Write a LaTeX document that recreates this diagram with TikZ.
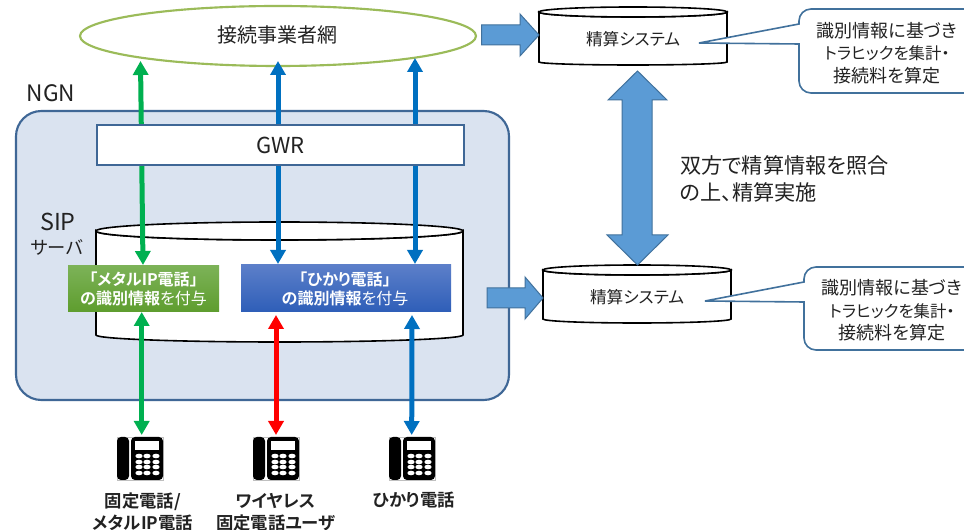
\documentclass[tikz,border=0pt]{standalone}
\usepackage{fontspec}
\setmainfont{Noto Sans CJK JP}[RawFeature=+palt,BoldFont={Noto Sans CJK JP Bold}]
\usetikzlibrary{arrows.meta,calc,shapes.geometric}
\definecolor{ngnfill}{HTML}{DAE3F0}
\definecolor{ngnline}{HTML}{3F6796}
\definecolor{blockfill}{HTML}{5B9BD5}
\definecolor{blockline}{HTML}{41719C}
\definecolor{greenarrow}{HTML}{00B050}
\definecolor{bluearrow}{HTML}{0070C0}
\definecolor{redarrow}{HTML}{FF0000}
\definecolor{ellline}{HTML}{9BBB59}
\definecolor{txt}{HTML}{222222}
\definecolor{calloutline}{HTML}{41719C}
\definecolor{metatop}{HTML}{7CB257}
\definecolor{metabot}{HTML}{5E9D2E}
\definecolor{hikatop}{HTML}{5C7FC9}
\definecolor{hikabot}{HTML}{2E5EB8}
\tikzset{
  x=0.75pt,y=-0.75pt,
  every node/.style={text=txt,inner sep=0pt,outer sep=0pt,align=center},
  biglabel/.style={font=\fontsize{15pt}{18pt}\selectfont},
  boxlabel/.style={font=\fontsize{12pt}{14.2pt}\selectfont,text=white},
  phonelabel/.style={font=\fontsize{13pt}{16.5pt}\selectfont\bfseries},
  notelabel/.style={font=\fontsize{13.5pt}{16.6pt}\selectfont},
  notemid/.style={font=\fontsize{12.3pt}{16.6pt}\selectfont},
  syslabel/.style={font=\fontsize{12.5pt}{14pt}\selectfont},
  link/.style={line width=3.75pt,{Triangle[width=11.25pt,length=10.5pt]}-{Triangle[width=11.25pt,length=10.5pt]}},
  blockarrow/.style={fill=blockfill,draw=blockline,line width=0.75pt,line join=miter},
  cylline/.style={draw=black,line width=1.2pt,fill=white},
  calloutbox/.style={draw=calloutline,fill=white,line width=1.2pt},
}
% name, x1, x2, top edge, rim centre, side end, lowest point
\newcommand\cylshape[7]{%
  \pgfmathsetmacro\cx{(#2+#3)/2}\pgfmathsetmacro\rx{(#3-#2)/2}%
  \pgfmathsetmacro\rt{#5-#4}\pgfmathsetmacro\rb{#7-#6}%
  \draw[cylline] (#2,#5) -- (#2,#6) arc[start angle=180,end angle=0,x radius=\rx,y radius=\rb] -- (#3,#5)
     arc[start angle=0,end angle=180,x radius=\rx,y radius=\rt] -- cycle;
  \draw[cylline] (\cx,#5) ellipse[x radius=\rx,y radius=\rt];
  \coordinate (#1) at (\cx,#5);
}
% name, left x
\newcommand\phoneicon[2]{%
  \node[draw=black!25,line width=0.4pt,fill=white,minimum width=34.5pt,minimum height=32.25pt] (#1) at (#2+23,458.5) {};
  \begin{scope}[shift={(#2,0)}]
    \fill[black,rounded corners=3pt] (0,437) rectangle (12,480);
    \fill[black,rounded corners=3pt] (14,437) rectangle (46,480);
    \fill[white] (18,441) rectangle (42,450);
    \foreach \kx in {22,30,39}{\foreach \ky in {456,462,467,473}{
      \fill[white] (\kx,\ky) ellipse[x radius=3.6,y radius=2.3];}}
  \end{scope}
}
\begin{document}
\begin{tikzpicture}
\useasboundingbox (0,0) rectangle (964,530);
\clip (0,0) rectangle (964,530);
\fill[white] (0,0) rectangle (964,530);

% NGN domain
\node[draw=ngnline,fill=ngnfill,line width=1.6pt,rounded corners=19pt,minimum width=369.75pt,minimum height=216.75pt] (ngn) at (262.5,255.5) {};
\node[font=\fontsize{17pt}{18pt}\selectfont] (ngnlabel) at (51,93) {NGN};

% carrier network
\node[draw=ellline,fill=white,line width=1.6pt,ellipse,minimum width=297pt,minimum height=45pt] (net) at (278,36) {};
\node[biglabel] (nettext) at (277,35) {接続事業者網};

% SIP server
\cylshape{sip}{96}{463}{222}{231}{335}{342}
\node[font=\fontsize{17.5pt}{18pt}\selectfont] (siplabel) at (58,222) {SIP};
\node[font=\fontsize{13.7pt}{18pt}\selectfont] (sipsub) at (57,247) {サーバ};

% identification boxes
\node[minimum width=113.25pt,minimum height=34.5pt,top color=metatop,bottom color=metabot] (meta) at (143.5,289) {};
\node[boxlabel] (metatext) at (143.5,288.5) {\textbf{「メタルIP電話」}\\\textbf{の識別情報}を付与};
\node[minimum width=157.5pt,minimum height=35.25pt,top color=hikatop,bottom color=hikabot] (hika) at (346,288.5) {};
\node[boxlabel] (hikatext) at (345,288.5) {\textbf{「ひかり電話」}\\\textbf{の識別情報}を付与};

% phones
\phoneicon{phoneA}{117}
\phoneicon{phoneB}{253}
\phoneicon{phoneC}{389}
\node[phonelabel] (labelA) at (143,512) {固定電話/\\メタルIP電話};
\node[phonelabel] (labelB) at (276,512) {ワイヤレス\\固定電話ユーザ};
\node[phonelabel] (labelC) at (414,500) {ひかり電話};

% connector ends
\coordinate (netA) at (140.5,61);
\coordinate (netB) at (278,61);
\coordinate (netC) at (415,58);
\coordinate (inA) at (143,265);
\coordinate (inB) at (278,264);
\coordinate (inC) at (415,264);
\coordinate (outA) at (141.7,312);
\coordinate (outB) at (276,315);
\coordinate (outC) at (412,315);
\coordinate (telA) at (141.7,435);
\coordinate (telB) at (276,435);
\coordinate (telC) at (411.7,435);

\draw[link,greenarrow] (netA) -- (inA);
\draw[link,bluearrow] (netB) -- (inB);
\draw[link,bluearrow] (netC) -- (inC);
\draw[link,greenarrow] (outA) -- (telA);
\draw[link,redarrow] (outB) -- (telB);
\draw[link,bluearrow] (outC) -- (telC);

% GWR
\node[draw=ngnline,fill=white,line width=1.6pt,minimum width=275.25pt,minimum height=30pt,font=\fontsize{16.5pt}{18pt}\selectfont] (gwr) at (280.5,145) {GWR};

% accounting systems
\cylshape{sysA}{539}{727}{7}{12}{62}{65}
\node[syslabel] (sysAtext) at (633,39) {精算システム};
\cylshape{sysB}{543}{731}{265}{270}{319}{323}
\node[syslabel] (sysBtext) at (637,297) {精算システム};

% block arrows
\draw[blockarrow] (481.5,25) -- (520,25) -- (520,14) -- (539,35) -- (520,56) -- (520,45) -- (481.5,45) -- cycle;
\draw[blockarrow] (487,288) -- (525,288) -- (525,277) -- (543,298) -- (525,319) -- (525,308) -- (487,308) -- cycle;
\draw[blockarrow] (637.5,71) -- (667,100) -- (652,100) -- (652,235) -- (668,235) -- (637.5,265) -- (607,235) -- (622,235) -- (622,100) -- (608,100) -- cycle;

% agreement text
\node[anchor=west,font=\fontsize{15.9pt}{18pt}\selectfont] (agree1) at (680,165) {双方で精算情報を照合};
\node[anchor=west,font=\fontsize{15.9pt}{18pt}\selectfont] (agree2) at (680,192) {の上、精算実施};

% callouts
\draw[calloutbox] (799,44) [rounded corners=9pt] -- (799,93) -- (985,93) -- (985,9) -- (799,9) [sharp corners] -- (799,24) -- (699,43) -- cycle;
\node[notelabel] (note1a) at (887,31) {識別情報に基づき};
\node[notemid] (note1b) at (887,53) {トラヒックを集計・};
\node[notelabel] (note1c) at (887,76) {接続料を算定};
\draw[calloutbox] (804,302) [rounded corners=9pt] -- (804,350) -- (985,350) -- (985,267) -- (804,267) [sharp corners] -- (804,282) -- (705,301) -- cycle;
\node[notelabel] (note2a) at (892,288) {識別情報に基づき};
\node[notemid] (note2b) at (892,311) {トラヒックを集計・};
\node[notelabel] (note2c) at (892,333) {接続料を算定};
\end{tikzpicture}
\end{document}
